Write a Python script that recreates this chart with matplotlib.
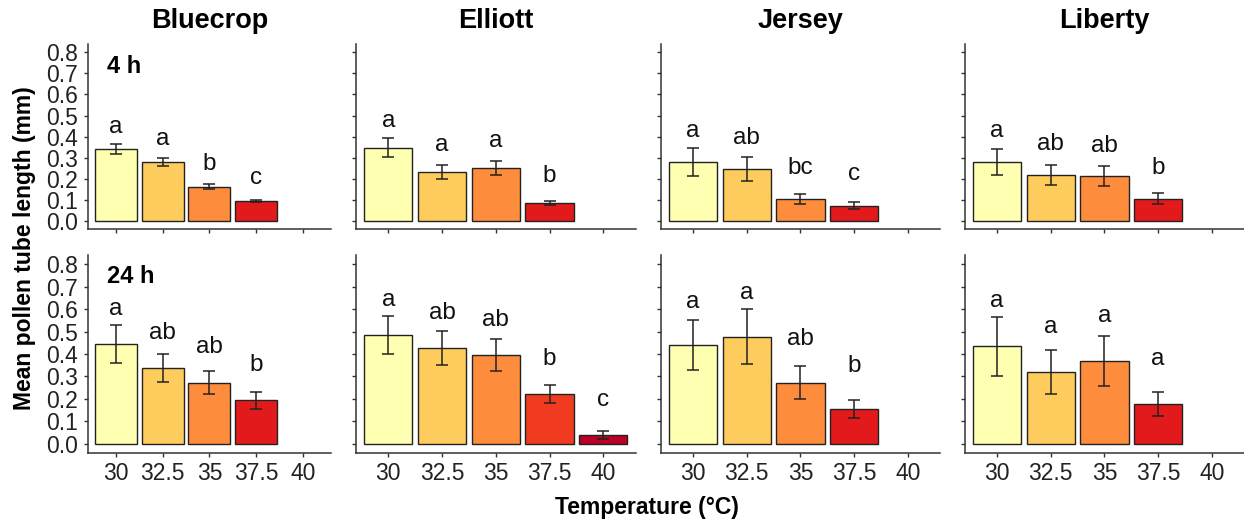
import numpy as np
import matplotlib
matplotlib.use("Agg")
import matplotlib.pyplot as plt

plt.rcParams['font.family'] = ['Liberation Sans', 'DejaVu Sans']

# data
cultivars = ["Bluecrop", "Elliott", "Jersey", "Liberty"]
temps = ["30", "32.5", "35", "37.5", "40"]
times = ["4 h", "24 h"]

mean_4h = [
    [0.340, 0.280, 0.162, 0.094],
    [0.347, 0.232, 0.252, 0.084],
    [0.280, 0.247, 0.103, 0.072],
    [0.280, 0.218, 0.212, 0.106],
]
se_4h = [
    [0.024, 0.020, 0.012, 0.005],
    [0.044, 0.032, 0.033, 0.008],
    [0.065, 0.057, 0.025, 0.017],
    [0.062, 0.049, 0.047, 0.024],
]
letters_4h = [
    ["a", "a", "b", "c"],
    ["a", "a", "a", "b"],
    ["a", "ab", "bc", "c"],
    ["a", "ab", "ab", "b"],
]

mean_24h = [
    [0.446, 0.338, 0.273, 0.193],
    [0.485, 0.426, 0.395, 0.222, 0.039],
    [0.440, 0.477, 0.273, 0.153],
    [0.434, 0.321, 0.369, 0.176],
]
se_24h = [
    [0.085, 0.063, 0.050, 0.036],
    [0.086, 0.077, 0.070, 0.040, 0.016],
    [0.112, 0.122, 0.072, 0.040],
    [0.130, 0.098, 0.112, 0.053],
]
letters_24h = [
    ["a", "ab", "ab", "b"],
    ["a", "ab", "ab", "b", "c"],
    ["a", "a", "ab", "b"],
    ["a", "a", "a", "a"],
]

# brewer YlOrRd, picked by number of bars in a panel
ylorrd = {
    4: ["#FFFFB2", "#FECC5C", "#FD8D3C", "#E31A1C"],
    5: ["#FFFFB2", "#FECC5C", "#FD8D3C", "#F03B20", "#BD0026"],
}

fig = plt.figure(figsize=(12.44, 5.25), dpi=100)

lefts = [0.0707, 0.2862, 0.5311, 0.7757]
widths = [0.1953, 0.2247, 0.2247, 0.2243]
rows = [(0.5632, 0.3533), (0.1377, 0.3758)]
letter_gap = [0.055, 0.045]
lab_y = [0.843, 0.86]

dark = "#333333"
x = np.arange(len(temps))

for r, (means, ses, lets) in enumerate([(mean_4h, se_4h, letters_4h),
                                        (mean_24h, se_24h, letters_24h)]):
    bottom, height = rows[r]
    for c in range(len(cultivars)):
        ax = fig.add_axes([lefts[c], bottom, widths[c], height])
        m = np.array(means[c])
        s = np.array(ses[c])
        n = len(m)
        xs = x[:n]
        ax.bar(xs, m, width=0.9, color=ylorrd[n], edgecolor="#222222",
               linewidth=1.0, zorder=2)
        ax.errorbar(xs, m, yerr=s, fmt="none", ecolor="#222222",
                    elinewidth=1.1, capsize=4.2, capthick=1.1, zorder=3)
        # letters sit a fixed step above mean + largest se of the panel
        for xi, mi, li in zip(xs, m, lets[c]):
            ax.text(xi, mi + s.max() + letter_gap[r], li, ha="center",
                    va="baseline", fontsize=17.5, color="#111111")

        ax.set_xlim(-0.6, len(temps) - 0.4)
        ax.set_ylim(-0.04, 0.84)
        ax.set_xticks(x)
        ax.set_yticks(np.arange(0, 0.81, 0.1))
        if r == 1:
            ax.set_xticklabels(temps)
        else:
            ax.set_xticklabels([])
        if c == 0:
            ax.set_yticklabels([f"{v:.1f}" for v in np.arange(0, 0.81, 0.1)])
            ax.text(0.078, lab_y[r], times[r], transform=ax.transAxes,
                    fontsize=17, fontweight="bold", va="baseline", ha="left")
        else:
            ax.set_yticklabels([])

        for side in ["top", "right"]:
            ax.spines[side].set_visible(False)
        for side in ["left", "bottom"]:
            ax.spines[side].set_color(dark)
            ax.spines[side].set_linewidth(1.1)
        ax.tick_params(axis="both", direction="out", length=3, width=1.0,
                       color=dark, labelsize=16.5, labelcolor="#222222")
        ax.tick_params(axis="x", pad=4)
        ax.tick_params(axis="y", pad=4)

        if r == 0:
            fig.text(lefts[c] + widths[c] / 2, 0.9467, cultivars[c],
                     ha="center", va="baseline", fontsize=19.5,
                     fontweight="bold")

fig.text(0.52, 0.034, "Temperature (°C)", ha="center", va="center",
         fontsize=16.5, fontweight="bold")
fig.text(0.02, 0.527, "Mean pollen tube length (mm)", ha="center",
         va="center", rotation=90, fontsize=16.5, fontweight="bold")

fig.savefig("out.png", dpi=100)
